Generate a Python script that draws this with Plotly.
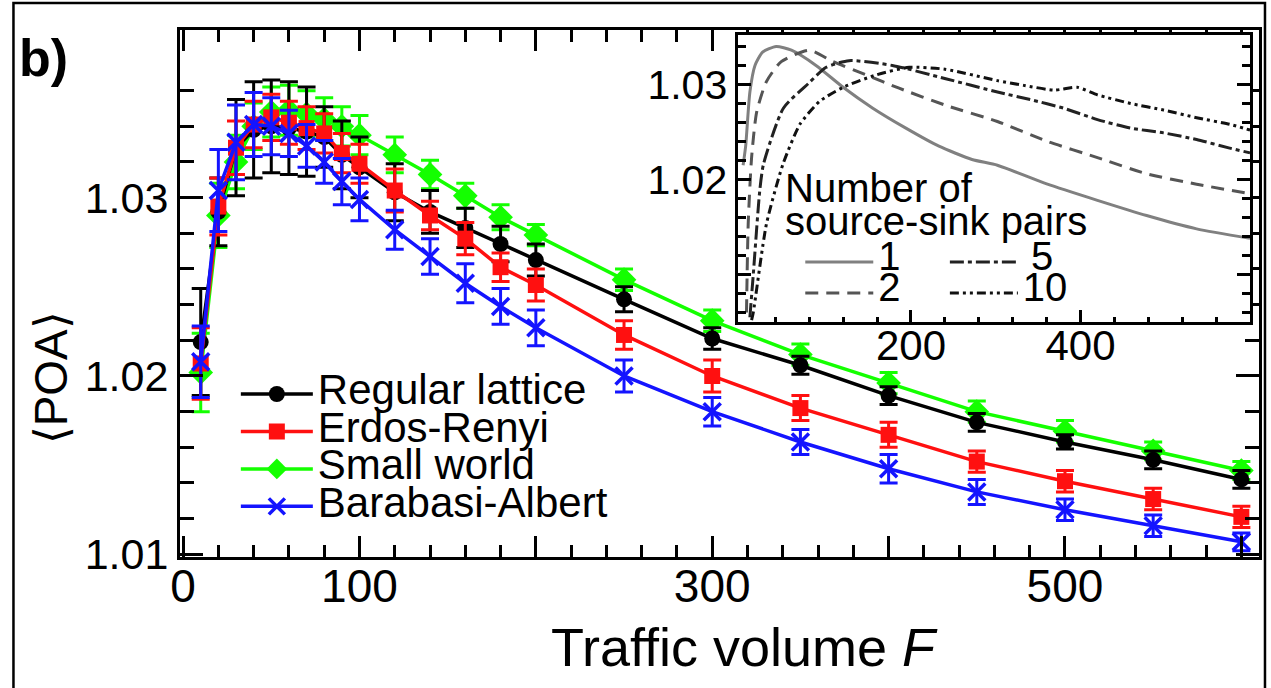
import plotly.graph_objects as go

# ---------------- data: main panel ----------------
F = [10, 20, 30, 40, 50, 60, 70, 80, 90, 100, 120, 140, 160, 180, 200,
     250, 300, 350, 400, 450, 500, 550, 600]

poa_regular = [1.0219, 1.0292, 1.0328, 1.0338, 1.0340, 1.0339, 1.0337, 1.0334, 1.0324, 1.0317,
               1.0303, 1.0292, 1.0283, 1.0274, 1.0265, 1.0243, 1.0221, 1.0206, 1.0189, 1.0174,
               1.0163, 1.0153, 1.0142]
err_regular = [0.0030, 0.0019, 0.0027, 0.0027, 0.0026, 0.0026, 0.0025, 0.0017, 0.0019, 0.0017,
               0.0016, 0.0012, 0.0011, 0.0010, 0.0009, 0.0007, 0.0006, 0.0005, 0.0005, 0.0005,
               0.0004, 0.0005, 0.0005]

poa_er = [1.0207, 1.0295, 1.0328, 1.0341, 1.0345, 1.0342, 1.0339, 1.0336, 1.0325, 1.0319,
          1.0304, 1.0290, 1.0277, 1.0261, 1.0251, 1.0223, 1.0200, 1.0182, 1.0167, 1.0152,
          1.0141, 1.0131, 1.0121]
err_er = [0.0020, 0.0016, 0.0015, 0.0013, 0.0013, 0.0012, 0.0012, 0.0011, 0.0011, 0.0011,
          0.0012, 0.0008, 0.0009, 0.0008, 0.0009, 0.0008, 0.0009, 0.0007, 0.0007, 0.0006,
          0.0006, 0.0006, 0.0006]

poa_sw = [1.0202, 1.0290, 1.0320, 1.0340, 1.0348, 1.0349, 1.0347, 1.0344, 1.0340, 1.0335,
          1.0324, 1.0313, 1.0301, 1.0289, 1.0279, 1.0254, 1.0231, 1.0212, 1.0196, 1.0180,
          1.0169, 1.0158, 1.0147]
err_sw = [0.0022, 0.0018, 0.0015, 0.0013, 0.0014, 0.0014, 0.0013, 0.0012, 0.0011, 0.0011,
          0.0010, 0.0008, 0.0007, 0.0007, 0.0006, 0.0006, 0.0006, 0.0006, 0.0006, 0.0006,
          0.0006, 0.0005, 0.0005]

poa_ba = [1.0208, 1.0304, 1.0331, 1.0341, 1.0340, 1.0336, 1.0329, 1.0320, 1.0309, 1.0299,
          1.0282, 1.0267, 1.0252, 1.0239, 1.0227, 1.0200, 1.0180, 1.0163, 1.0148, 1.0135,
          1.0125, 1.0116, 1.0107]
err_ba = [0.0020, 0.0023, 0.0021, 0.0018, 0.0016, 0.0013, 0.0012, 0.0012, 0.0013, 0.0012,
          0.0011, 0.0010, 0.0011, 0.0010, 0.0010, 0.0009, 0.0008, 0.0007, 0.0008, 0.0007,
          0.0006, 0.0006, 0.0005]

series_names = ["Regular lattice", "Erdos-Renyi", "Small world", "Barabasi-Albert"]

# ---------------- data: inset (number of source-sink pairs) ----------------
pairs_labels = ["1", "2", "5", "10"]

f_p1 = [2, 5, 10, 16, 25, 41, 59, 88, 120, 155, 194, 233, 272, 302, 361, 420, 478, 537, 600]
poa_p1 = [1.0215, 1.0235, 1.0292, 1.0320, 1.0334, 1.0340, 1.0336, 1.0320, 1.0297, 1.0275,
          1.0254, 1.0235, 1.0221, 1.0215, 1.0195, 1.0178, 1.0162, 1.0148, 1.0138]

f_p2 = [6, 8, 12, 18, 29.5, 47, 80, 108, 147, 186, 241, 302, 361, 420, 478, 537, 600]
poa_p2 = [1.0060, 1.0153, 1.0223, 1.0271, 1.0303, 1.0324, 1.0336, 1.0324, 1.0310, 1.0296,
          1.0278, 1.0261, 1.0240, 1.0223, 1.0206, 1.0195, 1.0185]

f_p5 = [10, 14, 21.6, 26, 49.5, 79, 100, 127, 178, 241, 302, 341, 380, 420, 459, 498, 537,
        576, 600]
poa_p5 = [1.0055, 1.0100, 1.0188, 1.0216, 1.0275, 1.0301, 1.0318, 1.0325, 1.0320, 1.0306,
          1.0292, 1.0284, 1.0275, 1.0263, 1.0254, 1.0249, 1.0242, 1.0233, 1.0228]

f_p10 = [12, 14, 29.5, 49, 69, 92, 120, 159, 198, 240, 302, 333, 369, 396, 420, 459, 498,
         537, 576, 600]
poa_p10 = [1.0052, 1.0060, 1.0153, 1.0216, 1.0258, 1.0282, 1.0297, 1.0310, 1.0318, 1.0316,
           1.0304, 1.0299, 1.0294, 1.0297, 1.0289, 1.0280, 1.0273, 1.0265, 1.0258, 1.0252]

# ---------------- styling ----------------
FONT = "Liberation Sans, Arial, Helvetica, sans-serif"
W, H = 1271, 688
PL, PR, PT, PB = 180, 1262, 30, 557   # plot-area edges in pixels


def fx(px):
    return (px - PL) / (PR - PL)


def fy(py):
    return (PB - py) / (PB - PT)


def big(txt, size=40):
    return "<span style='font-size:%dpx'>%s</span>" % (size, txt)


fig = go.Figure()

main_specs = [
    (poa_sw, err_sw, series_names[2], "#14ff00", "diamond", 19, 3),
    (poa_regular, err_regular, series_names[0], "#000000", "circle", 16, 1),
    (poa_er, err_er, series_names[1], "#ff1010", "square", 16, 2),
    (poa_ba, err_ba, series_names[3], "#1414ff", "x-thin", 17, 4),
]
for yv, ev, nm, col, sym, sz, rank in main_specs:
    mk = dict(symbol=sym, size=sz, color=col)
    if sym == "x-thin":
        mk["line"] = dict(color=col, width=3.5)
    fig.add_trace(go.Scatter(
        x=F, y=yv, mode="lines+markers", name=big(nm, 42),
        line=dict(color=col, width=3.5), marker=mk,
        error_y=dict(type="data", array=ev, visible=True, color=col, thickness=3, width=9),
        legend="legend", legendrank=rank, xaxis="x", yaxis="y",
    ))

inset_specs = [
    (f_p1, poa_p1, pairs_labels[0], "#808080", "solid", "legend2"),
    (f_p2, poa_p2, pairs_labels[1], "#555555", "13px,8px", "legend2"),
    (f_p5, poa_p5, "\u2009" + pairs_labels[2], "#222222", "14px,4px,4px,4px", "legend3"),
    (f_p10, poa_p10, pairs_labels[3], "#111111", "9px,4px,3px,4px,3px,4px", "legend3"),
]
for xv, yv, nm, col, dash, lg in inset_specs:
    fig.add_trace(go.Scatter(
        x=xv, y=yv, mode="lines", name=big(nm),
        line=dict(color=col, width=3, dash=dash, shape="spline", smoothing=0.6),
        legend=lg, xaxis="x2", yaxis="y2",
    ))

axis_common = dict(showline=True, linewidth=3, linecolor="black", showgrid=False,
                   zeroline=False, ticks="inside", tickcolor="black", tickwidth=3)

x_major = [0, 100, 200, 300, 400, 500, 600]
x_major_text = ["0", "100", "", "300", "", "500", ""]
x_minor = [v for v in range(20, 620, 20) if v % 100 != 0]

y_major = [1.01, 1.02, 1.03]
y_minor = [round(1.010 + 0.002 * k, 3) for k in range(1, 14) if k % 5 != 0]

x2_minor = [v for v in range(40, 600, 40) if v % 200 != 0]
y2_minor = [round(1.006 + 0.002 * k, 3) for k in range(0, 15)]
y2_minor = [v for v in y2_minor if abs(v * 100 - round(v * 100)) > 1e-6]

fig.update_layout(
    width=W, height=H,
    margin=dict(l=PL, r=W - PR, t=PT, b=H - PB, pad=0),
    paper_bgcolor="white", plot_bgcolor="white",
    font=dict(family=FONT, color="black"),
    showlegend=True,
    title=dict(text="<b>b)</b>", xref="container", yref="container",
               x=19 / W, y=1 - 58 / H, xanchor="left", yanchor="middle",
               font=dict(size=52, family=FONT, color="black")),
    xaxis=dict(**axis_common, range=[-1.75, 610], mirror="ticks", ticklen=21,
               tickmode="array", tickvals=x_major, ticktext=x_major_text,
               tickfont=dict(size=46, family=FONT), ticklabelstandoff=-13,
               minor=dict(tickmode="array", tickvals=x_minor, ticks="inside", ticklen=12,
                          tickwidth=3, tickcolor="black", showgrid=False),
               anchor="y", domain=[0, 1]),
    yaxis=dict(**axis_common, range=[1.00985, 1.0394], mirror="ticks", ticklen=23,
               tickmode="array", tickvals=y_major, ticktext=["1.01", "1.02", "1.03"],
               tickfont=dict(size=43, family=FONT),
               minor=dict(tickmode="array", tickvals=y_minor, ticks="inside", ticklen=14,
                          tickwidth=3, tickcolor="black", showgrid=False),
               anchor="x", domain=[0, 1]),
    xaxis2=dict(**axis_common, range=[-3.5, 600], mirror=True, ticklen=12,
                tickmode="array", tickvals=[200, 400], ticktext=["200", "400"],
                tickfont=dict(size=42, family=FONT), ticklabelstandoff=-15,
                minor=dict(tickmode="array", tickvals=x2_minor, ticks="inside", ticklen=5,
                           tickwidth=3, tickcolor="black", showgrid=False),
                anchor="y2", domain=[fx(740), fx(1253)]),
    yaxis2=dict(**axis_common, range=[1.005, 1.0352], mirror="ticks", ticklen=13,
                tickmode="array", tickvals=y_major, ticktext=["", "1.02", "1.03"],
                tickfont=dict(size=41, family=FONT),
                minor=dict(tickmode="array", tickvals=y2_minor, ticks="inside", ticklen=8,
                           tickwidth=3, tickcolor="black", showgrid=False),
                anchor="x2", domain=[fy(322), fy(35)]),
    legend=dict(x=fx(236), y=fy(370.3), xanchor="left", yanchor="top",
                font=dict(size=26.5, family=FONT, color="black"), bgcolor="rgba(0,0,0,0)",
                borderwidth=0, itemwidth=72, traceorder="normal"),
    legend2=dict(x=fx(802), y=fy(241.5), xanchor="left", yanchor="top",
                 font=dict(size=21.5, family=FONT, color="black"), bgcolor="rgba(0,0,0,0)",
                 borderwidth=0, itemwidth=68, traceorder="normal"),
    legend3=dict(x=fx(947), y=fy(241.5), xanchor="left", yanchor="top",
                 font=dict(size=21.5, family=FONT, color="black"), bgcolor="rgba(0,0,0,0)",
                 borderwidth=0, itemwidth=68, traceorder="normal"),
)

fig.add_annotation(text="\u27e8POA\u27e9", xref="paper", yref="paper", x=fx(51), y=fy(378),
                   xanchor="center", yanchor="middle",
                   showarrow=False, textangle=-90, font=dict(size=46, family=FONT))
fig.add_annotation(text="Traffic volume <i>F</i>", xref="paper", yref="paper", x=fx(746),
                   y=fy(647), xanchor="center", yanchor="middle", showarrow=False,
                   font=dict(size=54, family=FONT))
fig.add_annotation(text="Number of", xref="paper", yref="paper", x=fx(785), y=fy(188),
                   xanchor="left", yanchor="middle", showarrow=False,
                   font=dict(size=40, family=FONT))
fig.add_annotation(text="source-sink pairs", xref="paper", yref="paper", x=fx(785),
                   y=fy(221), xanchor="left", yanchor="middle", showarrow=False,
                   font=dict(size=40, family=FONT))

# outer frame of the figure panel
fig.add_shape(type="rect", xref="paper", yref="paper", x0=fx(13), x1=fx(1268),
              y0=fy(720), y1=fy(3), line=dict(color="black", width=2.5), layer="above")

fig.write_html("out.html")
